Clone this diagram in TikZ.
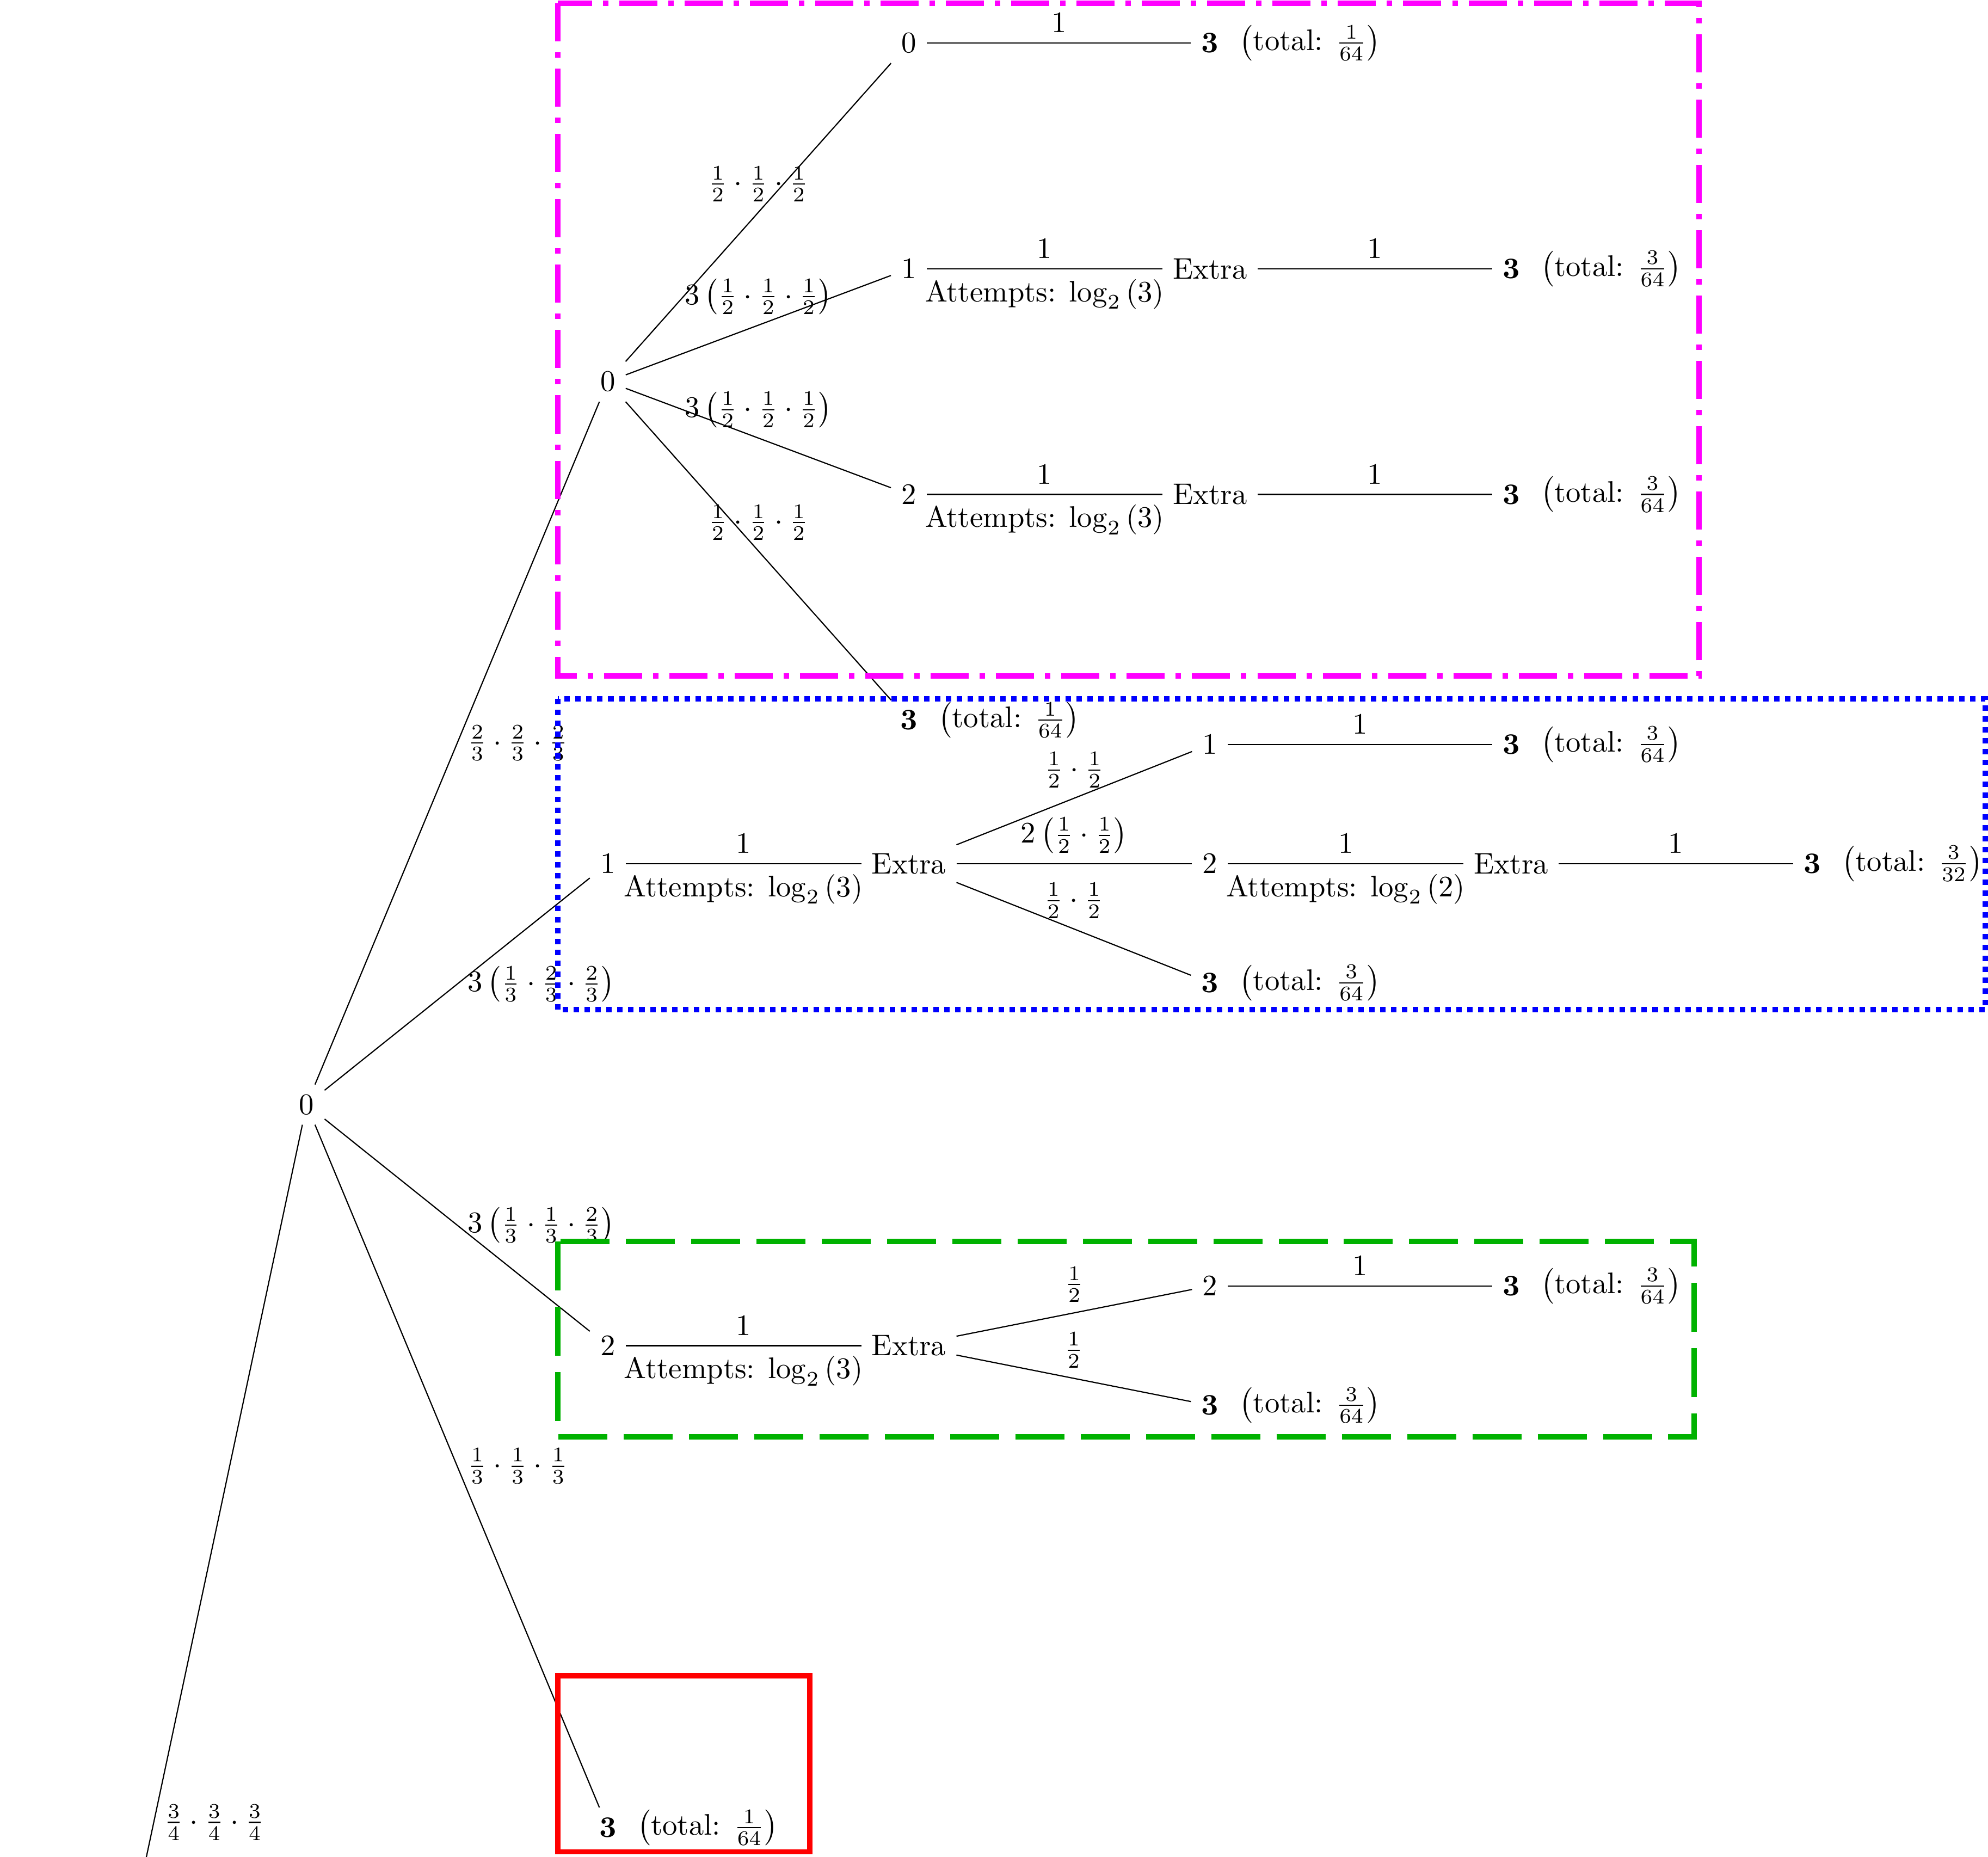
\documentclass[tikz,border=0pt]{standalone}
\usepackage{amsmath}
\usepackage{xcolor}
\usepackage{tikz}
\definecolor{grpmag}{RGB}{255,0,255}
\definecolor{grpblue}{RGB}{0,0,255}
\definecolor{grpgreen}{RGB}{0,178,0}
\definecolor{grpred}{RGB}{255,0,0}

\begin{document}
\begin{tikzpicture}[
      fin/.style={label={right:{$\left(\text{total: }#1\right)$}}},
      pa/.style={midway, above},
      pb/.style={midway, below},
      pr/.style={midway, right},
      boxm/.style={draw=grpmag, line width=1.8pt, dash pattern=on 12.8pt off 3.66pt on 1.83pt off 3.66pt},
      boxb/.style={draw=grpblue, line width=1.8pt, dash pattern=on 1.83pt off 1.83pt},
      boxg/.style={draw=grpgreen, line width=1.8pt, dash pattern=on 16.45pt off 5.48pt},
      boxr/.style={draw=grpred, line width=1.8pt}]
    \useasboundingbox (0,0) rectangle (23.47,-21.92);
    \clip (0,0) rectangle (23.47,-21.92);
    % first split
    \coordinate (r) at (0.06,-29.75);
    \node (z) at (3.62,-13.04) {$0$};
    \node (z0) at (7.175,-4.505) {$0$};
    \node (z1) at (7.175,-10.195) {$1$};
    \node (z2) at (7.175,-15.885) {$2$};
    \node[fin={\frac{1}{64}}] (z3) at (7.175,-21.575) {$\mathbf{3}$};
    % below z0
    \node (z00) at (10.73,-0.509) {$0$};
    \node[fin={\frac{1}{64}}] (z00e) at (14.285,-0.509) {$\mathbf{3}$};
    \node (z01) at (10.73,-3.173) {$1$};
    \node (z01x) at (14.285,-3.173) {Extra};
    \node[fin={\frac{3}{64}}] (z01e) at (17.84,-3.173) {$\mathbf{3}$};
    \node (z02) at (10.73,-5.837) {$2$};
    \node (z02x) at (14.285,-5.837) {Extra};
    \node[fin={\frac{3}{64}}] (z02e) at (17.84,-5.837) {$\mathbf{3}$};
    \node[fin={\frac{1}{64}}] (z03) at (10.73,-8.501) {$\mathbf{3}$};
    % below z1
    \node (z1x) at (10.73,-10.195) {Extra};
    \node (z1a) at (14.285,-8.788) {$1$};
    \node[fin={\frac{3}{64}}] (z1ae) at (17.84,-8.788) {$\mathbf{3}$};
    \node (z1b) at (14.285,-10.195) {$2$};
    \node (z1bx) at (17.84,-10.195) {Extra};
    \node[fin={\frac{3}{32}}] (z1be) at (21.395,-10.195) {$\mathbf{3}$};
    \node[fin={\frac{3}{64}}] (z1c) at (14.285,-11.602) {$\mathbf{3}$};
    % below z2
    \node (z2x) at (10.73,-15.885) {Extra};
    \node (z2a) at (14.285,-15.18) {$2$};
    \node[fin={\frac{3}{64}}] (z2ae) at (17.84,-15.18) {$\mathbf{3}$};
    \node[fin={\frac{3}{64}}] (z2b) at (14.285,-16.59) {$\mathbf{3}$};
    % edges
    \draw (r) -- node[pr] {$\frac{3}{4}\cdot\frac{3}{4}\cdot\frac{3}{4}$} (z);
    \draw (z) -- node[pr] {$\frac{2}{3}\cdot\frac{2}{3}\cdot\frac{2}{3}$} (z0);
    \draw (z) -- node[pr] {$3\left(\frac{1}{3}\cdot\frac{2}{3}\cdot\frac{2}{3}\right)$} (z1);
    \draw (z) -- node[pr] {$3\left(\frac{1}{3}\cdot\frac{1}{3}\cdot\frac{2}{3}\right)$} (z2);
    \draw (z) -- node[pr] {$\frac{1}{3}\cdot\frac{1}{3}\cdot\frac{1}{3}$} (z3);
    \draw (z0) -- node[pa] {$\frac{1}{2}\cdot\frac{1}{2}\cdot\frac{1}{2}$} (z00);
    \draw (z0) -- node[pa] {$3\left(\frac{1}{2}\cdot\frac{1}{2}\cdot\frac{1}{2}\right)$} (z01);
    \draw (z0) -- node[pa] {$3\left(\frac{1}{2}\cdot\frac{1}{2}\cdot\frac{1}{2}\right)$} (z02);
    \draw (z0) -- node[pa] {$\frac{1}{2}\cdot\frac{1}{2}\cdot\frac{1}{2}$} (z03);
    \draw (z00) -- node[pa] {$1$} (z00e);
    \draw (z01) -- node[pa] {$1$} node[pb] {Attempts: $\log_2\left(3\right)$} (z01x);
    \draw (z01x) -- node[pa] {$1$} (z01e);
    \draw (z02) -- node[pa] {$1$} node[pb] {Attempts: $\log_2\left(3\right)$} (z02x);
    \draw (z02x) -- node[pa] {$1$} (z02e);
    \draw (z1) -- node[pa] {$1$} node[pb] {Attempts: $\log_2\left(3\right)$} (z1x);
    \draw (z1x) -- node[pa] {$\frac{1}{2}\cdot\frac{1}{2}$} (z1a);
    \draw (z1x) -- node[pa] {$2\left(\frac{1}{2}\cdot\frac{1}{2}\right)$} (z1b);
    \draw (z1x) -- node[pa] {$\frac{1}{2}\cdot\frac{1}{2}$} (z1c);
    \draw (z1a) -- node[pa] {$1$} (z1ae);
    \draw (z1b) -- node[pa] {$1$} node[pb] {Attempts: $\log_2\left(2\right)$} (z1bx);
    \draw (z1bx) -- node[pa] {$1$} (z1be);
    \draw (z2) -- node[pa] {$1$} node[pb] {Attempts: $\log_2\left(3\right)$} (z2x);
    \draw (z2x) -- node[pa] {$\frac{1}{2}$} (z2a);
    \draw (z2x) -- node[pa] {$\frac{1}{2}$} (z2b);
    \draw (z2a) -- node[pa] {$1$} (z2ae);
    % groups
    \draw[boxm] (6.585,-0.039) rectangle (20.06,-7.98);
    \draw[boxb] (6.585,-8.25) rectangle (23.44,-11.92);
    \draw[boxg] (6.585,-14.655) rectangle (20.0,-16.96);
    \draw[boxr] (6.585,-19.78) rectangle (9.56,-21.86);
\end{tikzpicture}
\end{document}
